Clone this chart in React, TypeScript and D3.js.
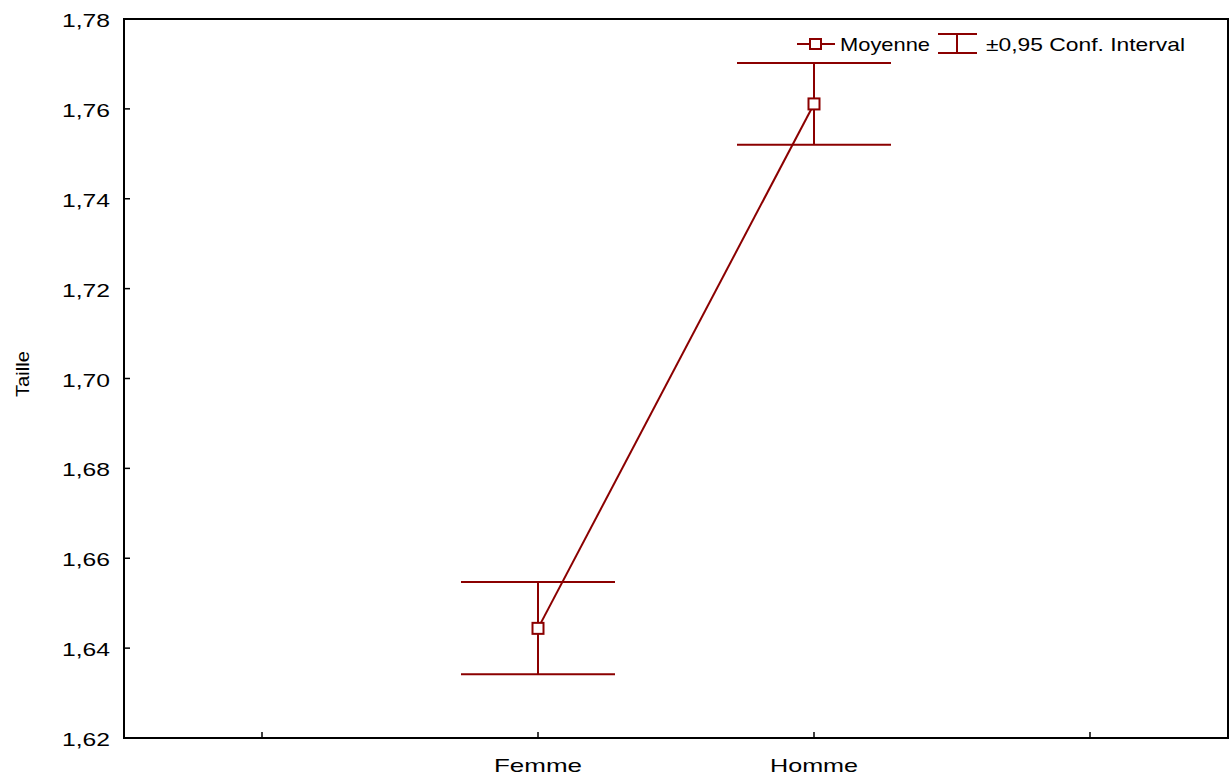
import * as d3 from "d3"

const categories = ["Femme", "Homme"]
const means = [1.6444, 1.7611]
const ciLow = [1.6342, 1.752]
const ciHigh = [1.6547, 1.7702]
const yTicks = [1.62, 1.64, 1.66, 1.68, 1.7, 1.72, 1.74, 1.76, 1.78]

const W = 1231
const H = 778
const red = "#8b0000"
const font = "'Liberation Sans', Arial, sans-serif"

// texte étiré horizontalement comme dans l'original
function Label({ x, y, w, anchor = "start", size = 19, children, transform }: any) {
  return (
    <text
      x={x}
      y={y}
      textAnchor={anchor}
      fontSize={size}
      fontFamily={font}
      fill="#000"
      textLength={w}
      lengthAdjust="spacingAndGlyphs"
      transform={transform}
    >
      {children}
    </text>
  )
}

export default function App() {
  const left = 124
  const right = 1228
  const top = 19
  const bottom = 738

  const x = d3.scalePoint<string>().domain(categories).range([left, right]).padding(1.5)
  const y = d3.scaleLinear().domain([1.62, 1.78]).range([bottom, top])
  const step = x.step()
  const capHalf = 77

  // ticks de l'axe x : une de chaque côté en plus des catégories
  const xTickPos = [x(categories[0])! - step, ...categories.map((c) => x(c)!), x(categories[1])! + step]
  const fmt = (v: number) => d3.format(".2f")(v).replace(".", ",")

  const line = d3
    .line<number>()
    .x((_, i) => x(categories[i])!)
    .y((d) => y(d))

  return (
    <svg width={W} height={H} style={{ position: "absolute", left: 0, top: 0, display: "block" }}>
      <rect width={W} height={H} fill="#fff" />
      <rect x={left} y={top} width={right - left} height={bottom - top} fill="none" stroke="#000" strokeWidth={2} />

      {yTicks.map((t) => (
        <g key={t}>
          <line x1={left} x2={left + 6} y1={y(t)} y2={y(t)} stroke="#000" strokeWidth={1.5} />
          <Label x={110} y={y(t) + 8} w={48} anchor="end">
            {fmt(t)}
          </Label>
        </g>
      ))}

      {xTickPos.map((p, i) => (
        <line key={i} x1={p} x2={p} y1={bottom} y2={bottom - 6} stroke="#000" strokeWidth={1.5} />
      ))}
      {categories.map((c) => (
        <Label key={c} x={x(c)} y={772} w={88} anchor="middle">
          {c}
        </Label>
      ))}

      <Label x={0} y={0} w={46} size={18} anchor="middle" transform="translate(29,374) rotate(-90)">
        Taille
      </Label>

      {/* intervalles de confiance */}
      {categories.map((c, i) => {
        const cx = x(c)!
        return (
          <g key={c} stroke={red} strokeWidth={2}>
            <line x1={cx} x2={cx} y1={y(ciLow[i])} y2={y(ciHigh[i])} />
            <line x1={cx - capHalf} x2={cx + capHalf} y1={y(ciLow[i])} y2={y(ciLow[i])} />
            <line x1={cx - capHalf} x2={cx + capHalf} y1={y(ciHigh[i])} y2={y(ciHigh[i])} />
          </g>
        )
      })}

      <path d={line(means) ?? ""} fill="none" stroke={red} strokeWidth={2} />
      {means.map((m, i) => (
        <rect
          key={i}
          x={x(categories[i])! - 5.5}
          y={y(m) - 5.5}
          width={11}
          height={11}
          fill="#fff"
          stroke={red}
          strokeWidth={2}
        />
      ))}

      {/* légende */}
      <g>
        <line x1={797} x2={835} y1={44} y2={44} stroke={red} strokeWidth={2} />
        <rect x={810} y={39} width={11} height={10} fill="#fff" stroke={red} strokeWidth={2} />
        <Label x={840} y={51} w={90}>
          Moyenne
        </Label>
        <line x1={938} x2={977} y1={34} y2={34} stroke={red} strokeWidth={2} />
        <line x1={938} x2={977} y1={53} y2={53} stroke={red} strokeWidth={2} />
        <line x1={957} x2={957} y1={34} y2={53} stroke={red} strokeWidth={2} />
        <Label x={986} y={51} w={199}>
          ±0,95 Conf. Interval
        </Label>
      </g>
    </svg>
  )
}
